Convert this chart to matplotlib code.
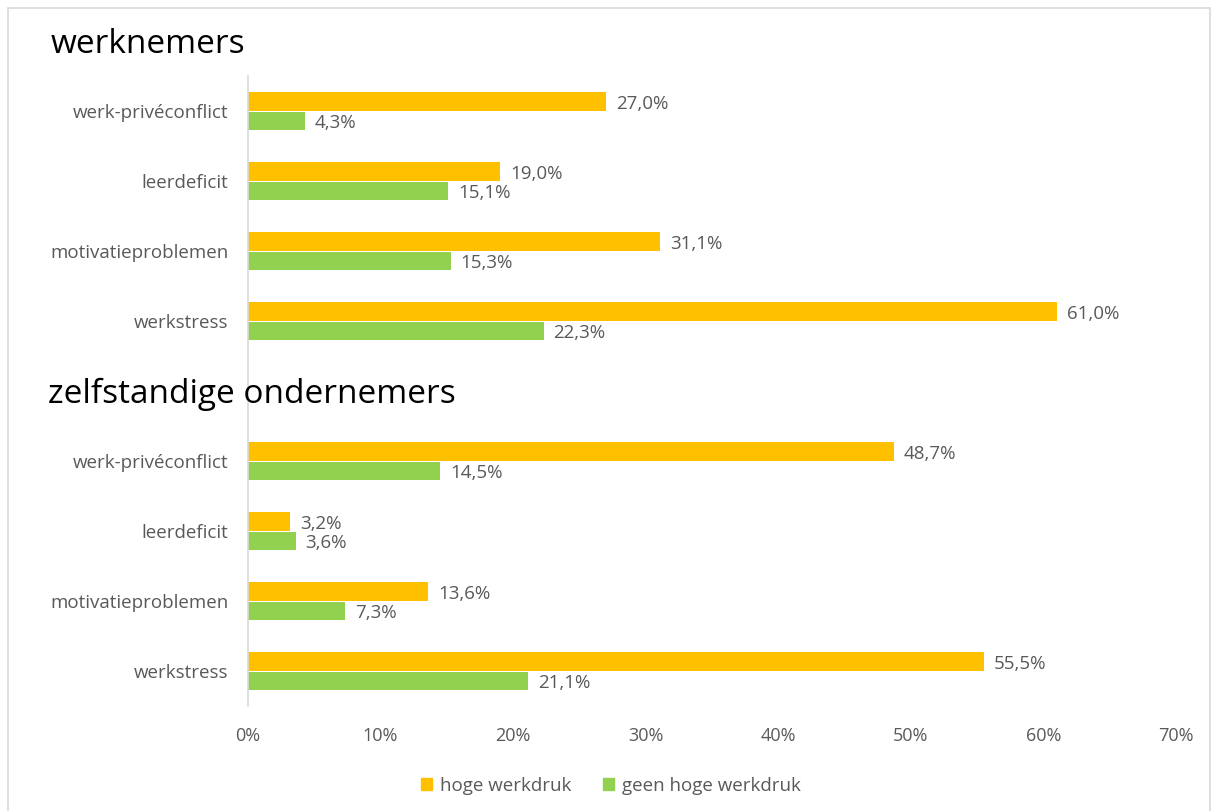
import matplotlib
matplotlib.use("Agg")
import matplotlib.pyplot as plt
from matplotlib.patches import Patch, Rectangle

plt.rcParams['font.family'] = ['Open Sans', 'DejaVu Sans']

groups = ["werknemers", "zelfstandige ondernemers"]
categories = ["werk-privéconflict", "leerdeficit", "motivatieproblemen", "werkstress"]
hoge_werknemers = [27.0, 19.0, 31.1, 61.0]
geen_werknemers = [4.3, 15.1, 15.3, 22.3]
hoge_zelfst = [48.7, 3.2, 13.6, 55.5]
geen_zelfst = [14.5, 3.6, 7.3, 21.1]
series_names = ["hoge werkdruk", "geen hoge werkdruk"]
xticks = [0, 10, 20, 30, 40, 50, 60, 70]

ORANGE = "#FFC000"
GREEN = "#92D050"
GRAY = "#595959"

W, H = 1212, 811
fig = plt.figure(figsize=(W / 100, H / 100), dpi=100)
ax = fig.add_axes([248 / W, 105 / H, 928 / W, 630 / H])

# border
fig.patches.append(Rectangle((8 / W, -0.01), 1202 / W, (1 - 8 / H) + 0.01,
                             transform=fig.transFigure, fill=False,
                             edgecolor="#D9D9D9", linewidth=1.2))

bh = 0.26
ytick_pos, ytick_lab = [], []
data = [(hoge_werknemers, geen_werknemers), (hoge_zelfst, geen_zelfst)]
title_x = [-197 / 928 * 70, -200 / 928 * 70]
for g, (hoge, geen) in enumerate(data):
    base = g * 5
    ax.text(title_x[g], base + 0.05, groups[g], fontsize=24, color="black",
            ha="left", va="center", clip_on=False)
    for i, cat in enumerate(categories):
        y = base + 1 + i
        ytick_pos.append(y)
        ytick_lab.append(cat)
        ax.barh(y - bh / 2 - 0.005, hoge[i], height=bh, color=ORANGE)
        ax.barh(y + bh / 2 + 0.015, geen[i], height=bh, color=GREEN)
        ax.text(hoge[i] + 0.75, y - bh / 2 + 0.035, f"{hoge[i]:.1f}%".replace(".", ","),
                fontsize=13.5, color=GRAY, va="center", ha="left")
        ax.text(geen[i] + 0.75, y + bh / 2 + 0.04, f"{geen[i]:.1f}%".replace(".", ","),
                fontsize=13.5, color=GRAY, va="center", ha="left")

ax.set_xlim(0, 70)
ax.set_ylim(9.5, 0.5)
ax.set_yticks(ytick_pos)
ax.set_yticklabels(ytick_lab, fontsize=13.5, color=GRAY)
ax.set_xticks(xticks)
ax.set_xticklabels([f"{t}%" for t in xticks], fontsize=13, color=GRAY)
ax.tick_params(axis="both", length=0)
ax.tick_params(axis="y", pad=14)
ax.tick_params(axis="x", pad=15)
for s in ["top", "right", "bottom"]:
    ax.spines[s].set_visible(False)
ax.spines["left"].set_color("#D9D9D9")
ax.spines["left"].set_linewidth(1.2)

handles = [Patch(color=ORANGE, label=series_names[0]), Patch(color=GREEN, label=series_names[1])]
leg = fig.legend(handles=handles, loc="center", bbox_to_anchor=(611 / W, 1 - 786 / H),
                 ncol=2, frameon=False, fontsize=13.5, handlelength=0.6, handleheight=0.6,
                 handletextpad=0.4, columnspacing=1.7)
for t in leg.get_texts():
    t.set_color(GRAY)

fig.savefig("out.png", dpi=100)
